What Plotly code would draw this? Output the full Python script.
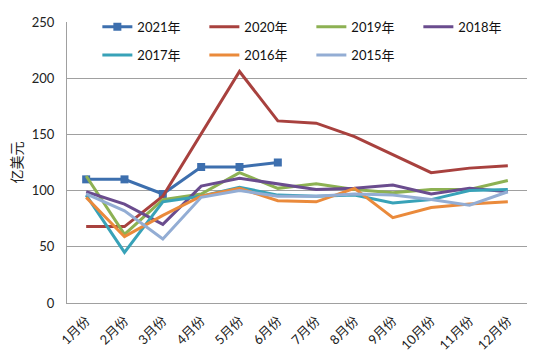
import plotly.graph_objects as go

months = ["1月份", "2月份", "3月份", "4月份", "5月份", "6月份",
          "7月份", "8月份", "9月份", "10月份", "11月份", "12月份"]

y2021 = [110, 110, 97, 121, 121, 125]
y2020 = [68, 68, 95, 150, 206, 162, 160, 148, 132, 116, 120, 122]
y2019 = [113, 61, 92, 97, 116, 102, 106, 101, 98, 101, 101, 109]
y2018 = [99, 88, 70, 104, 111, 106, 101, 102, 105, 97, 102, 99]
y2017 = [96, 45, 90, 95, 103, 96, 95, 96, 89, 92, 100, 101]
y2016 = [94, 59, 78, 95, 102, 91, 90, 102, 76, 85, 88, 90]
y2015 = [97, 82, 57, 94, 100, 95, 95, 97, 96, 92, 87, 99]

series = [
    ("2021年", y2021, "#3D6FAE", True, "legend"),
    ("2020年", y2020, "#A8413E", False, "legend"),
    ("2019年", y2019, "#8DB153", False, "legend"),
    ("2018年", y2018, "#6A4C8E", False, "legend"),
    ("2017年", y2017, "#38A2B8", False, "legend2"),
    ("2016年", y2016, "#EA8A3B", False, "legend2"),
    ("2015年", y2015, "#93ADD4", False, "legend2"),
]

font_family = "Lato, Noto Sans CJK SC, sans-serif"

fig = go.Figure()
for name, vals, color, markers, lg in series:
    fig.add_trace(go.Scatter(
        x=months[:len(vals)], y=vals, name=name,
        mode="lines+markers" if markers else "lines",
        line=dict(color=color, width=3),
        marker=dict(symbol="square", size=8, color=color),
        legend=lg,
    ))

legend_common = dict(
    orientation="h", xanchor="left", yanchor="middle",
    entrywidth=62, entrywidthmode="pixels",
    bgcolor="rgba(0,0,0,0)", font=dict(size=13, color="#111111"),
)

fig.update_layout(
    width=550, height=362,
    margin=dict(l=67, r=23, t=15, b=59),
    paper_bgcolor="white", plot_bgcolor="white",
    font=dict(family=font_family, size=13, color="#222222"),
    showlegend=True,
    legend=dict(x=0.066, y=(303 - 20) / 288, **legend_common),
    legend2=dict(x=0.066, y=(303 - 49) / 288, **legend_common),
    xaxis=dict(
        type="category", categoryorder="array", categoryarray=months,
        range=[-0.5, 11.5], tickangle=-45, showgrid=False,
        showline=True, linecolor="#A0A0A0", linewidth=1,
        ticks="", tickfont=dict(size=13), automargin=False,
        ticklabelstandoff=4,
    ),
    yaxis=dict(
        range=[0, 250], dtick=50, showgrid=True, gridcolor="#A0A0A0",
        gridwidth=1, showline=True, linecolor="#A0A0A0", linewidth=1,
        ticks="", zeroline=False, tickfont=dict(size=13), automargin=False,
        ticklabelstandoff=9,
        title=dict(text="亿美元", font=dict(size=14), standoff=5),
    ),
)

fig.write_html(
    "out.html",
    config={"displayModeBar": False},
    post_script="document.body.style.margin='0';document.body.style.overflow='hidden';",
)
